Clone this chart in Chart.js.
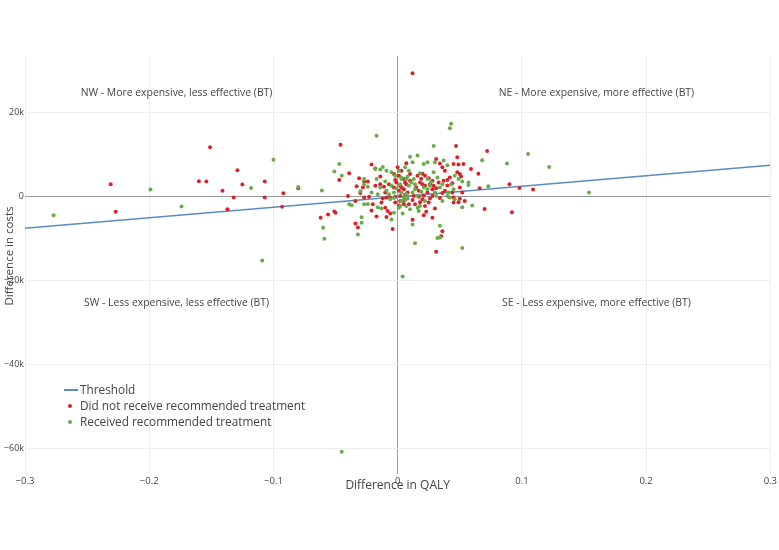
<!DOCTYPE html>
<html><head><meta charset="utf-8">
<script src="https://cdn.jsdelivr.net/npm/chart.js@4/dist/chart.umd.min.js"></script>
<style>html,body{margin:0;padding:0;background:#fff}#wrap{width:779px;height:550px;position:relative}</style>
</head><body><div id="wrap"><canvas id="c" width="779" height="550"></canvas></div>
<script>
const seriesNames = ['Threshold', 'Did not receive recommended treatment', 'Received recommended treatment'];
const seriesColors = ['#5b8ac4', '#d8232a', '#6aab4a'];

const thresholdX = [-0.3, 0.3];
const thresholdY = [-7500, 7500];

const notRecX = [-0.231,-0.227,-0.151,-0.160,-0.154,-0.141,-0.132,-0.137,-0.129,-0.125,-0.107,-0.107,-0.092,-0.093,-0.080,-0.046,-0.047,-0.039,-0.040,-0.062,-0.056,-0.051,-0.050,-0.021,-0.018,-0.031,-0.033,-0.030,-0.027,-0.034,-0.032,-0.021,-0.017,-0.004,-0.027,-0.024,-0.028,-0.014,-0.014,-0.011,-0.010,-0.003,0.000,0.007,-0.002,-0.001,0.002,0.005,-0.003,0.001,0.006,-0.006,-0.002,-0.023,-0.034,-0.013,-0.010,-0.008,-0.009,-0.006,-0.002,0.001,0.002,0.005,0.006,-0.012,-0.009,0.031,0.034,0.048,0.045,0.049,0.053,0.059,0.065,0.072,0.047,0.003,0.001,0.005,0.010,0.016,0.020,0.022,0.018,0.020,0.022,0.026,0.028,0.029,0.033,0.037,0.040,0.042,0.048,0.050,0.051,0.036,0.038,0.050,0.052,0.044,0.038,0.028,0.024,0.017,0.003,0.007,0.002,0.006,0.013,0.017,0.021,0.028,0.036,0.045,0.050,0.054,0.005,0.009,0.014,0.018,0.022,0.025,0.030,0.028,0.021,0.023,0.012,0.036,0.035,0.031,0.070,0.045,0.049,0.066,0.090,0.098,0.109,0.092,0.012,0.010,0.015,0.019,0.025,0.031,0.008,0.012,0.020,0.026,-0.007,-0.018,-0.020,0.040,0.044,0.034];
const notRecY = [3000,-3600,11800,3700,3600,1400,-200,-3000,6300,2900,3600,-200,800,-2400,2000,12400,4000,5600,200,-5000,-4200,-3500,-3800,7700,6700,4400,2500,900,-200,-6400,-7300,-3300,-4700,-7700,3600,3600,2200,4800,3000,2400,1000,5400,7000,8000,4000,3400,2600,1800,2200,1400,3400,-200,0,0,-1000,-1400,-2600,-3400,-4800,-4000,-1400,-2100,-1000,-1800,-600,-400,-200,9000,7900,9400,7800,7700,7800,6600,5500,10900,12100,6200,5000,4200,5400,5000,5500,5000,3400,3000,2600,3000,3800,2600,3400,3800,4000,4600,5800,5400,4800,7000,6200,2200,1000,1000,1400,1800,1000,1400,2200,3000,200,500,200,0,300,200,900,-200,-500,-1000,-1000,-1800,-1800,-1300,-2200,-1400,-2800,-5000,-4400,-3600,-5500,-8200,-9400,-13100,-2900,-1400,-1300,2000,3000,2100,1700,-3700,29400,3800,2200,4300,4400,2000,1000,-800,-600,-400,3000,2600,-1800,2700,3200,-300];

const recX = [-0.277,-0.199,-0.174,-0.118,-0.100,-0.080,-0.061,-0.051,-0.047,-0.045,-0.060,-0.059,-0.017,-0.039,-0.037,-0.029,-0.029,-0.032,-0.027,-0.024,-0.017,-0.018,-0.014,-0.012,-0.009,-0.005,-0.024,-0.016,-0.109,-0.045,0.004,-0.027,-0.030,-0.021,-0.014,-0.009,-0.007,-0.005,0.001,-0.002,0.003,0.007,0.003,0.007,0.005,-0.003,-0.027,-0.013,-0.005,-0.003,0.001,0.003,0.007,-0.006,-0.003,0.043,0.042,0.029,0.105,0.122,0.088,0.068,0.154,0.073,0.060,0.052,0.052,0.014,0.034,0.034,0.032,0.057,0.010,0.016,0.012,0.021,0.024,0.030,0.037,0.040,0.006,0.009,0.013,0.011,0.009,0.014,0.014,0.012,0.016,0.021,0.024,0.030,0.034,0.041,0.045,0.046,0.049,0.029,0.032,0.002,0.003,0.057,0.004,0.012,0.010,0.016,0.018,0.017,0.002,0.006,0.040,0.042,0.046,0.036,0.008,0.018,0.024,0.027,0.019,0.026,0.031,0.008,-0.010,-0.016,0.036,0.043,0.052,0.022,-0.001];
const recY = [-4400,1700,-2300,2100,8800,2300,1500,6000,7800,5000,-7400,-10000,14500,-1800,-2000,-4900,-6200,-9000,4200,2400,4200,6600,6500,7100,6200,5800,-1700,-2500,-15200,-60700,-19000,3000,1300,1000,2200,1400,600,2600,6200,5000,4600,4200,1000,600,-200,1000,-1800,-2800,-5400,-3800,-2600,-1000,-2200,-600,-300,17400,16300,12100,10200,7100,7900,8700,1000,2500,-2100,-2500,-12200,-11100,-6900,-9700,-9800,2800,9500,9800,8200,7800,8200,8200,8600,7500,7000,6200,4200,3400,2600,3000,1800,1000,200,2200,1800,1000,2200,1000,1800,5000,4200,5800,4600,3000,4200,3400,-4000,-6600,-3000,-2600,-2200,-3400,-2200,-800,200,-200,-600,-1000,4800,5600,4200,3500,1200,2600,200,-400,3600,600,3000,2900,3600,-1000,2000];

const xTicks = [-0.3, -0.2, -0.1, 0, 0.1, 0.2, 0.3];
const xTickLabels = ['\u22120.3', '\u22120.2', '\u22120.1', '0', '0.1', '0.2', '0.3'];
const yTicks = [-60000, -40000, -20000, 0, 20000];
const yTickLabels = ['\u221260k', '\u221240k', '\u221220k', '0', '20k'];

const xTitle = 'Difference in QALY';
const yTitle = 'Difference in costs';

const quadrantTexts = ['NW - More expensive, less effective (BT)', 'NE - More expensive, more effective (BT)', 'SW - Less expensive, less effective (BT)', 'SE - Less expensive, more effective (BT)'];
const quadrantX = [-0.178, 0.160, -0.178, 0.160];
const quadrantY = [24700, 24700, -25300, -25300];

const FONT = "'Open Sans', 'DejaVu Sans', sans-serif";
const TXT = '#444';

const zip = (xs, ys) => xs.map((x, i) => ({x: x, y: ys[i]}));

const overlay = {
  id: 'overlay',
  afterDraw(chart) {
    const ctx = chart.ctx, xs = chart.scales.x, ys = chart.scales.y;
    ctx.save();
    ctx.font = '10.4px ' + FONT;
    ctx.fillStyle = TXT;
    ctx.textAlign = 'center';
    ctx.textBaseline = 'middle';
    quadrantTexts.forEach((t, i) => {
      ctx.fillText(t, xs.getPixelForValue(quadrantX[i]), ys.getPixelForValue(quadrantY[i]));
    });
    ctx.font = '12px ' + FONT;
    ctx.fillText(xTitle, xs.getPixelForValue(0), 486);
    ctx.save();
    ctx.translate(10, 256);
    ctx.rotate(-Math.PI / 2);
    ctx.font = '11.5px ' + FONT;
    ctx.fillText(yTitle, 0, 0);
    ctx.restore();
    ctx.font = '11.8px ' + FONT;
    ctx.textAlign = 'left';
    const lx = 64, ly = 390, step = 16;
    ctx.strokeStyle = seriesColors[0];
    ctx.lineWidth = 2;
    ctx.beginPath(); ctx.moveTo(lx, ly); ctx.lineTo(lx + 14, ly); ctx.stroke();
    ctx.fillStyle = TXT;
    ctx.fillText(seriesNames[0], lx + 16, ly + 1);
    for (let i = 1; i < 3; i++) {
      const y = ly + step * i;
      ctx.fillStyle = seriesColors[i];
      ctx.beginPath(); ctx.arc(lx + 6, y, 2, 0, Math.PI * 2); ctx.fill();
      ctx.fillStyle = TXT;
      ctx.fillText(seriesNames[i], lx + 16, y + 1);
    }
    ctx.restore();
  }
};

new Chart(document.getElementById('c'), {
  type: 'scatter',
  data: {
    datasets: [
      { label: seriesNames[2], data: zip(recX, recY), backgroundColor: seriesColors[2], pointRadius: 2, pointBorderWidth: 0, order: 0 },
      { label: seriesNames[1], data: zip(notRecX, notRecY), backgroundColor: seriesColors[1], pointRadius: 2, pointBorderWidth: 0, order: 1 },
      { type: 'line', label: seriesNames[0], data: zip(thresholdX, thresholdY), borderColor: seriesColors[0], borderWidth: 1.5, pointRadius: 0, fill: false, order: 2 }
    ]
  },
  options: {
    responsive: false,
    animation: false,
    devicePixelRatio: 1,
    layout: { autoPadding: false, padding: { left: 0, right: 3, top: 56, bottom: 0 } },
    plugins: { legend: { display: false }, tooltip: { enabled: false } },
    scales: {
      x: {
        type: 'linear', min: -0.3, max: 0.3,
        afterBuildTicks: s => { s.ticks = xTicks.map(v => ({ value: v })); },
        afterFit: s => { s.height = 76; },
        grid: { color: c => (c.tick && c.tick.value === 0) ? '#9a9a9a' : '#eeeeee', lineWidth: 1, drawTicks: false },
        border: { display: false },
        ticks: { padding: 2, color: TXT, font: { size: 9.5, family: FONT }, maxRotation: 0, autoSkip: false,
                 callback: (v, i) => xTickLabels[i] }
      },
      y: {
        type: 'linear', min: -66000, max: 33500,
        afterBuildTicks: s => { s.ticks = yTicks.map(v => ({ value: v })); },
        afterFit: s => { s.width = 25; },
        grid: { color: c => (c.tick && c.tick.value === 0) ? '#9a9a9a' : '#eeeeee', lineWidth: 1, drawTicks: false },
        border: { display: false },
        ticks: { padding: 1, color: TXT, font: { size: 9, family: FONT }, autoSkip: false,
                 callback: (v, i) => yTickLabels[i] }
      }
    }
  },
  plugins: [overlay]
});
</script>
</body></html>
